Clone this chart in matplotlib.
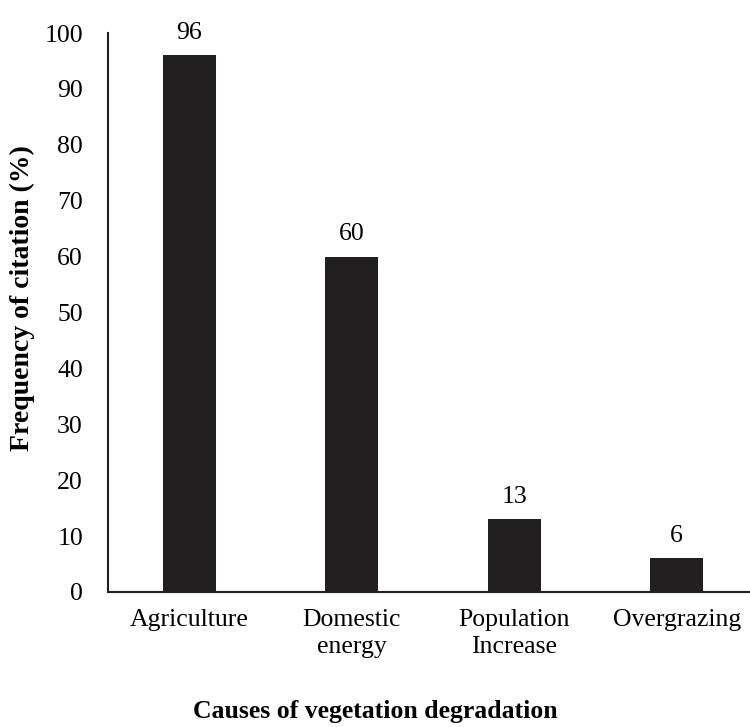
import matplotlib.pyplot as plt

causes = ["Agriculture", "Domestic\nenergy", "Population\nIncrease", "Overgrazing"]
freq = [96, 60, 13, 6]
value_labels = ["96", "60", "13", "6"]

plt.rcParams['font.family'] = ['Liberation Serif', 'DejaVu Serif']

fig = plt.figure(figsize=(7.5, 7.27), dpi=100)
# axes run a bit past the right edge, like the original
ax = fig.add_axes([108 / 750, 135 / 727, 650 / 750, 559 / 727])

x = list(range(len(causes)))
bars = ax.bar(x, freq, width=0.326, color='#231f20')
for b, lab in zip(bars, value_labels):
    ax.annotate(lab, (b.get_x() + b.get_width() / 2, b.get_height()),
                xytext=(0, 8), textcoords='offset points',
                ha='center', va='bottom', fontsize=18.5)

ax.set_xlim(-0.5, 3.5)
ax.set_ylim(0, 100)
ax.set_yticks(range(0, 101, 10))
ax.set_xticks(x)
ax.set_xticklabels(causes, linespacing=1.3)
ax.tick_params(axis='both', length=0, labelsize=18.5)
ax.tick_params(axis='y', pad=18)
ax.tick_params(axis='x', pad=12)

for s in ['top', 'right']:
    ax.spines[s].set_visible(False)
for s in ['left', 'bottom']:
    ax.spines[s].set_linewidth(1.5)
    ax.spines[s].set_color('#231f20')

ax.set_ylabel("Frequency of citation (%)", fontsize=20, fontweight='bold')
ax.yaxis.set_label_coords(-0.113, 0.525)
fig.text(0.5, 0.022, "Causes of vegetation degradation", ha='center', va='center',
         fontsize=18.5, fontweight='bold')

fig.savefig("out.png", dpi=100)
